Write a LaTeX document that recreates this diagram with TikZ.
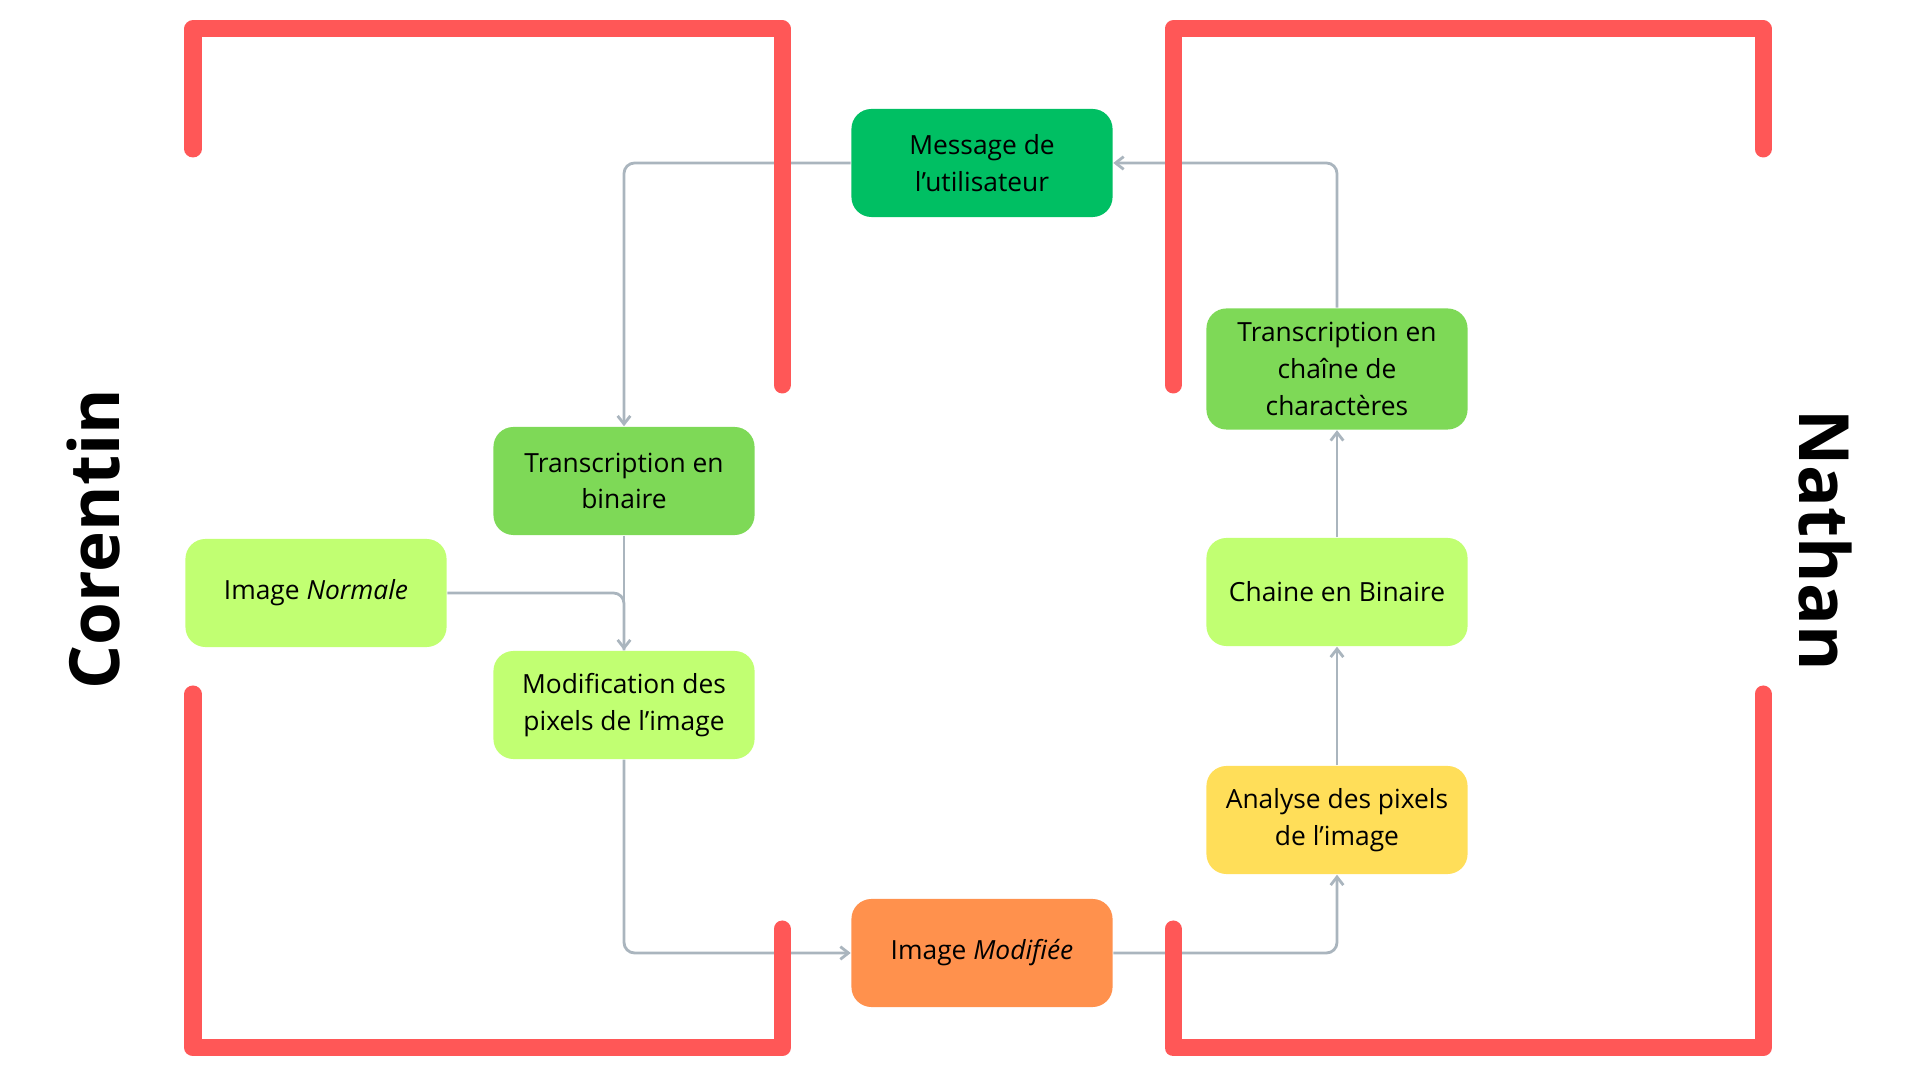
\documentclass[tikz,border=0pt]{standalone}
\usepackage{fontspec}
\setmainfont{Open Sans}
\usetikzlibrary{arrows.meta}
\definecolor{bracketred}{HTML}{FF5757}
\definecolor{linkgray}{HTML}{AAB5BE}
\definecolor{darkgreen}{HTML}{00BF63}
\definecolor{midgreen}{HTML}{7ED957}
\definecolor{lightgreen}{HTML}{C1FF72}
\definecolor{softyellow}{HTML}{FFDE59}
\definecolor{softorange}{HTML}{FF914D}
\tikzset{
    stepbox/.style={rounded corners=0.2cm, minimum width=2.61cm, minimum height=1.08cm,
        inner sep=0pt, align=center, font=\fontsize{7.5}{10.4}\selectfont},
    link/.style={linkgray, line width=0.8pt, rounded corners=3pt},
    flow/.style={link, -{Straight Barb[length=2.3pt, width=3.6pt]}},
    bracket/.style={bracketred, line width=0.17cm, line cap=round, line join=round},
    person/.style={font=\fontsize{19.7}{23}\selectfont\bfseries},
}
\begin{document}
\begin{tikzpicture}[x=0.01cm, y=-0.01cm]
    \useasboundingbox (0,0) rectangle (1920,1080);
    % steps
    \node [stepbox, fill=darkgreen] (msg) at (982,163) {Message de\\l’utilisateur};
    \node [stepbox, fill=midgreen] (tbin) at (624,481) {Transcription en\\binaire};
    \node [stepbox, fill=lightgreen] (imgn) at (316,593) {Image \emph{Normale}};
    \node [stepbox, fill=lightgreen] (modif) at (624,705) {Modification des\\pixels de l’image};
    \node [stepbox, fill=softorange] (imgm) at (982,953) {Image \emph{Modifiée}};
    \node [stepbox, fill=midgreen, minimum height=1.21cm] (tchaine) at (1337,369) {Transcription en\\chaîne de\\charactères};
    \node [stepbox, fill=lightgreen] (chaine) at (1337,592) {Chaine en Binaire};
    \node [stepbox, fill=softyellow] (analyse) at (1337,820) {Analyse des pixels\\de l’image};
    % links
    \draw [flow] (msg.west) -| (tbin.north);
    \draw [flow] (tbin.south) -- (modif.north);
    \draw [link] (imgn.east) -| (modif.north);
    \draw [flow] (modif.south) |- (imgm.west);
    \draw [flow] (imgm.east) -| (analyse.south);
    \draw [flow] (analyse.north) -- (chaine.south);
    \draw [flow] (chaine.north) -- (tchaine.south);
    \draw [flow] (tchaine.north) |- (msg.east);
    % brackets
    \draw [bracket] (193,149) -- (193,29) -- (782,29) -- (782,385);
    \draw [bracket] (1173,385) -- (1173,29) -- (1763,29) -- (1763,149);
    \draw [bracket] (193,694) -- (193,1048) -- (782,1048) -- (782,929);
    \draw [bracket] (1173,929) -- (1173,1048) -- (1763,1048) -- (1763,694);
    % names
    \node [person, rotate=90] (corentin) at (94,539) {Corentin};
    \node [person, rotate=-90] (nathan) at (1825,540) {Nathan};
\end{tikzpicture}
\end{document}
